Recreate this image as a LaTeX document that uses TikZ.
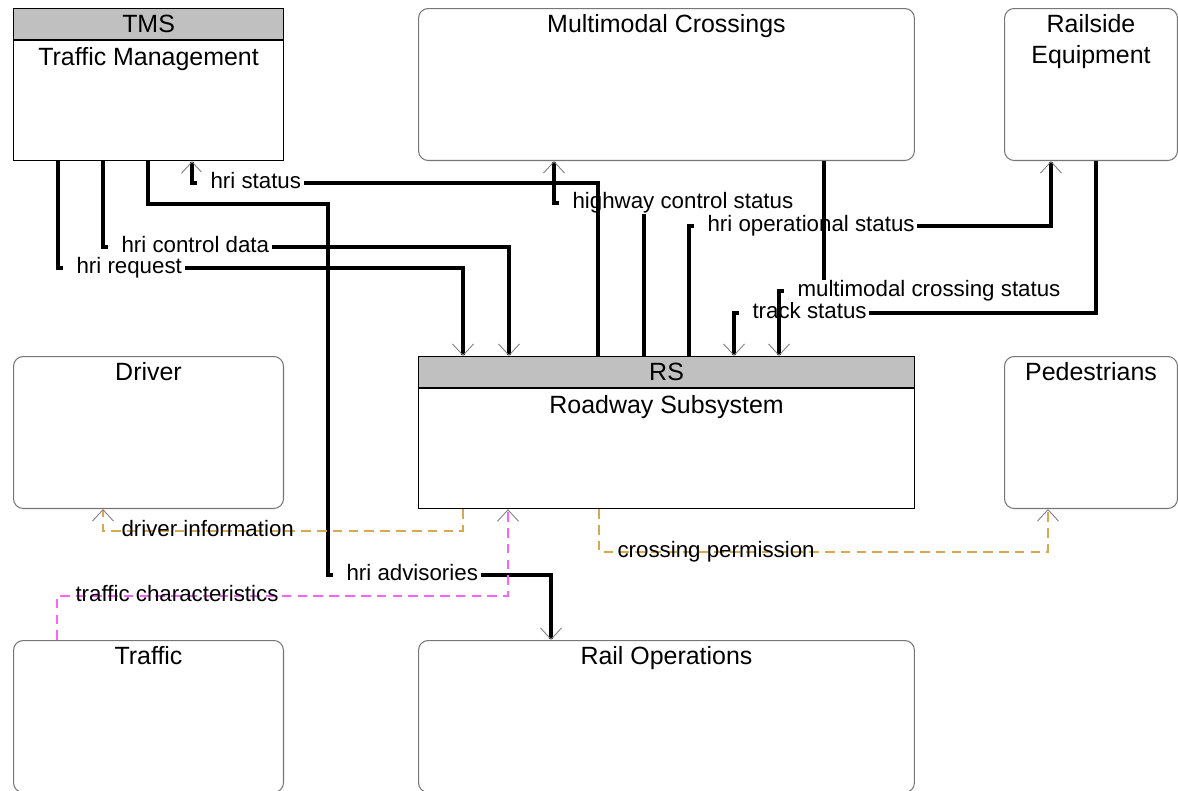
\documentclass[tikz,border=0pt]{standalone}
\usepackage{fontspec}
\setmainfont{Liberation Sans}
\usetikzlibrary{arrows.meta}

\definecolor{hdrgray}{RGB}{192,192,192}
\definecolor{boxline}{RGB}{118,118,118}
\definecolor{tanline}{RGB}{214,168,84}
\definecolor{pinkline}{RGB}{250,100,250}
\newcommand{\boxfont}{\fontsize{14.2pt}{18pt}\selectfont}
\newcommand{\lblfont}{\fontsize{12.7pt}{15pt}\selectfont}

\begin{document}
\begin{tikzpicture}[x=0.02cm, y=-0.02cm,
	ext/.style={draw=boxline, line width=0.6pt, rounded corners=5.5pt, anchor=north west, inner sep=0pt, minimum height=3.04cm},
	subsys/.style={draw=black, line width=0.7pt, anchor=north west, inner sep=0pt, minimum height=3.04cm},
	hdr/.style={draw=black, line width=0.7pt, fill=hdrgray, anchor=north, inner sep=0pt, minimum height=0.63cm, font=\boxfont},
	ttl/.style={anchor=north, align=center, font=\boxfont},
	tip/.style={-{Straight Barb[length=6.5pt, width=12pt, line width=0.5pt, color=gray]}},
	flow/.style={tip, line width=1.9pt},
	tanflow/.style={tip, draw=tanline, line width=0.8pt, dash pattern=on 5.5pt off 3.5pt},
	pinkflow/.style={tip, draw=pinkline, line width=0.8pt, dash pattern=on 5.5pt off 3.5pt},
	lbl/.style={anchor=west, font=\lblfont, fill=white, inner xsep=1.5pt, inner ysep=0.3pt, text height=9.2pt, text depth=2.7pt, execute at begin node=\hspace{6pt}},
	dlbl/.style={lbl, fill=none}]
			
			\useasboundingbox (0,0) rectangle (1178,791);
			
			% Riga superiore
			\node[subsys, minimum width=5.4cm] (tms) at (13,8) {};
			\node[hdr, minimum width=5.4cm] (tmshdr) at (tms.north) {TMS};
			\node[ttl] (tmsttl) at (tmshdr.south) {Traffic Management};
			\node[ext, minimum width=9.92cm] (mc) at (418,8) {};
			\node[ttl] (mcttl) at (mc.north) {Multimodal Crossings};
			\node[ext, minimum width=3.46cm] (rse) at (1004,8) {};
			\node[ttl] (rsettl) at (rse.north) {Railside\\Equipment};
			
			% Riga centrale
			\node[ext, minimum width=5.4cm] (drv) at (13,356) {};
			\node[ttl] (drvttl) at (drv.north) {Driver};
			\node[subsys, minimum width=9.92cm] (rs) at (418,356) {};
			\node[hdr, minimum width=9.92cm] (rshdr) at (rs.north) {RS};
			\node[ttl] (rsttl) at (rshdr.south) {Roadway Subsystem};
			\node[ext, minimum width=3.46cm] (ped) at (1004,356) {};
			\node[ttl] (pedttl) at (ped.north) {Pedestrians};
			
			% Riga inferiore
			\node[ext, minimum width=5.4cm] (trf) at (13,640) {};
			\node[ttl] (trfttl) at (trf.north) {Traffic};
			\node[ext, minimum width=9.92cm] (rop) at (418,640) {};
			\node[ttl] (ropttl) at (rop.north) {Rail Operations};
			
			% Flussi tra RS e attraversamenti / binari
			\draw[flow] (644,0 |- rs.north) -- (644,203) -- (554,203) -- (554,0 |- mc.south);
			\node[lbl] (lhcs) at (559,203) {highway control status};
			\draw[flow] (689,0 |- rs.north) -- (689,226) -- (1051,226) -- (1051,0 |- rse.south);
			\node[lbl] (lhos) at (694,226) {hri operational status};
			\draw[flow] (1096,0 |- rse.south) -- (1096,313) -- (734,313) -- (734,0 |- rs.north);
			\node[lbl] (lts) at (739,313) {track status};
			\draw[flow] (824,0 |- mc.south) -- (824,291) -- (779,291) -- (779,0 |- rs.north);
			\node[lbl] (lmcs) at (784,291) {multimodal crossing status};
			
			% Flussi da e verso TMS
			\draw[flow] (58,0 |- tms.south) -- (58,268) -- (463,268) -- (463,0 |- rs.north);
			\node[lbl] (lreq) at (63,268) {hri request};
			\draw[flow] (103,0 |- tms.south) -- (103,247) -- (509,247) -- (509,0 |- rs.north);
			\node[lbl] (lcd) at (108,247) {hri control data};
			\draw[flow] (598,0 |- rs.north) -- (598,183) -- (192,183) -- (192,0 |- tms.south);
			\node[lbl] (lst) at (197,183) {hri status};
			\draw[flow] (148,0 |- tms.south) -- (148,204) -- (328,204) -- (328,575) -- (551,575) -- (551,0 |- rop.north);
			\node[lbl] (ladv) at (333,575) {hri advisories};
			
			% Flussi tratteggiati
			\draw[tanflow] (463,0 |- rs.south) -- (463,531) -- (103,531) -- (103,0 |- drv.south);
			\node[dlbl] (ldi) at (108,531) {driver information};
			\draw[pinkflow] (57,0 |- trf.north) -- (57,596) -- (508,596) -- (508,0 |- rs.south);
			\node[dlbl] (ltc) at (62,596) {traffic characteristics};
			\draw[tanflow] (599,0 |- rs.south) -- (599,552) -- (1048,552) -- (1048,0 |- ped.south);
			\node[dlbl] (lcp) at (604,552) {crossing permission};
			
		\end{tikzpicture}
\end{document}
